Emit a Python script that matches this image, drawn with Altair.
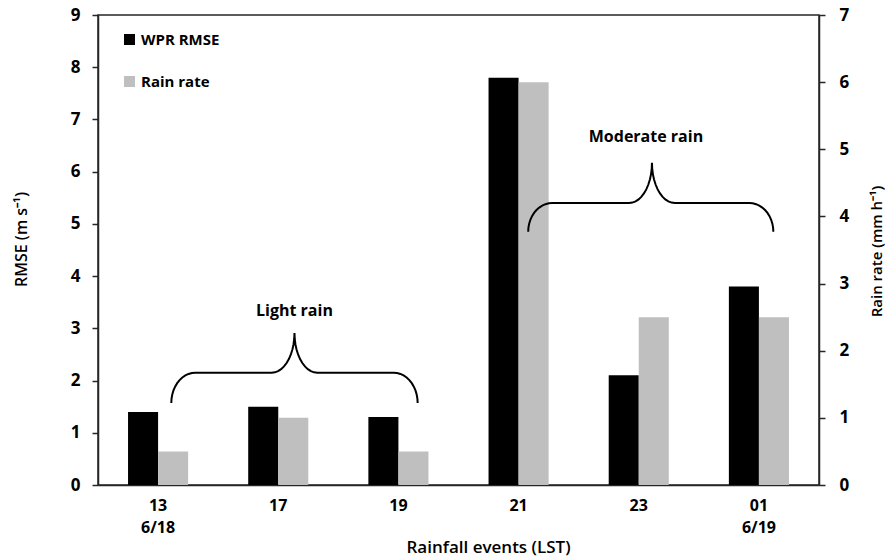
import altair as alt
import pandas as pd
import numpy as np

# ---- data ----
events = ["13|6/18", "17", "19", "21", "23", "01|6/19"]
wpr_rmse = [1.4, 1.5, 1.3, 7.8, 2.1, 3.8]          # left axis (m s-1)
rain_rate = [0.5, 1.0, 0.5, 6.0, 2.5, 2.5]         # right axis (mm h-1)
series = ["WPR RMSE", "Rain rate"]
colors = ["#000000", "#bfbfbf"]

# brace annotations (x in category units, y in RMSE units)
groups = ["Light rain", "Moderate rain"]
brace_x0 = [0.61, 3.58]
brace_x1 = [2.66, 5.62]
brace_xm = [1.635, 4.61]
brace_y_end = [1.57, 4.85]
brace_y_bar = [2.15, 5.40]
brace_y_tip = [2.91, 6.17]
label_x = [1.635, 4.56]
label_y = [3.33, 6.67]

FONT = "Open Sans"
AX = "#262626"

df1 = pd.DataFrame({"event": events, "series": series[0], "value": wpr_rmse})
df2 = pd.DataFrame({"event": events, "series": series[1], "value": rain_rate})


def brace_points(g, x0, x1, xm, ye, yb, yt, rx=0.2, rxm=0.19, n=12):
    pts = []
    for t in np.linspace(np.pi, np.pi / 2, n):
        pts.append((x0 + rx + rx * np.cos(t), ye + (yb - ye) * np.sin(t)))
    for t in np.linspace(-np.pi / 2, 0, n):
        pts.append((xm - rxm + rxm * np.cos(t), yt + (yt - yb) * np.sin(t)))
    for t in np.linspace(np.pi, 1.5 * np.pi, n):
        pts.append((xm + rxm + rxm * np.cos(t), yt + (yt - yb) * np.sin(t)))
    for t in np.linspace(np.pi / 2, 0, n):
        pts.append((x1 - rx + rx * np.cos(t), ye + (yb - ye) * np.sin(t)))
    return [{"g": g, "i": i, "bx": float(px), "by": float(py)} for i, (px, py) in enumerate(pts)]


rows = []
for k, g in enumerate(groups):
    rows += brace_points(g, brace_x0[k], brace_x1[k], brace_xm[k],
                         brace_y_end[k], brace_y_bar[k], brace_y_tip[k])
brace_df = pd.DataFrame(rows)
label_df = pd.DataFrame({"g": groups, "bx": label_x, "by": label_y})

xscale = alt.Scale(domain=events, paddingInner=0.5, paddingOuter=0.25)
offscale = alt.Scale(domain=series, paddingInner=0, paddingOuter=0)
cscale = alt.Scale(domain=series, range=colors)

legend = alt.Legend(
    title=None, orient="none", legendX=24, legendY=17, direction="vertical",
    symbolType="square", symbolSize=121, symbolStrokeWidth=0, symbolOpacity=1,
    labelFont=FONT, labelFontSize=15, labelFontWeight="bold", labelColor="#000",
    labelOffset=4, rowPadding=26,
)

bars1 = alt.Chart(df1).mark_bar().encode(
    x=alt.X("event:N", sort=events, scale=xscale,
            axis=alt.Axis(title="Rainfall events (LST)", labelAngle=0, ticks=False,
                          labelExpr="split(datum.value, '|')",
                          labelFont=FONT, labelFontSize=16, labelFontWeight="bold",
                          labelColor="#000", labelLineHeight=22, labelPadding=12,
                          domainColor=AX, domainWidth=1.5,
                          titleFont=FONT, titleFontSize=17, titleFontWeight=600,
                          titleColor="#000", titleX=390, titleY=62,
                          titleAlign="center", titleBaseline="middle")),
    xOffset=alt.XOffset("series:N", scale=offscale),
    y=alt.Y("value:Q", scale=alt.Scale(domain=[0, 9], nice=False),
            axis=alt.Axis(title="RMSE (m s⁻¹)", values=list(range(10)), grid=False,
                          tickSize=6, tickColor=AX, tickWidth=1.5,
                          domainColor=AX, domainWidth=1.5,
                          labelFont=FONT, labelFontSize=17, labelFontWeight="bold",
                          labelColor="#000", labelPadding=12,
                          titleFont=FONT, titleFontSize=16, titleFontWeight=600,
                          titleColor="#000", titleAngle=270, titleX=-77, titleY=224,
                          titleAlign="center", titleBaseline="middle")),
    color=alt.Color("series:N", scale=cscale, legend=legend),
)

bars2 = alt.Chart(df2).mark_bar().encode(
    x=alt.X("event:N", sort=events, scale=xscale, axis=None),
    xOffset=alt.XOffset("series:N", scale=offscale),
    y=alt.Y("value:Q", scale=alt.Scale(domain=[0, 7], nice=False),
            axis=alt.Axis(title="Rain rate (mm h⁻¹)", orient="right",
                          values=list(range(8)), grid=False,
                          tickSize=6, tickColor=AX, tickWidth=1.5,
                          domainColor=AX, domainWidth=1.5,
                          labelFont=FONT, labelFontSize=17, labelFontWeight="bold",
                          labelColor="#000", labelPadding=14,
                          titleFont=FONT, titleFontSize=15, titleFontWeight=600,
                          titleColor="#000", titleAngle=270, titleX=57, titleY=236,
                          titleAlign="center", titleBaseline="middle")),
    color=alt.Color("series:N", scale=cscale, legend=legend),
)

bx_scale = alt.Scale(domain=[0, 6], nice=False, zero=False)
by_scale = alt.Scale(domain=[0, 9], nice=False)

braces = alt.Chart(brace_df).mark_line(color="#000", strokeWidth=2).encode(
    x=alt.X("bx:Q", scale=bx_scale, axis=None),
    y=alt.Y("by:Q", scale=by_scale, axis=None),
    detail="g:N",
    order="i:Q",
)

labels = alt.Chart(label_df).mark_text(font=FONT, fontSize=16, fontWeight="bold",
                                        color="#000").encode(
    x=alt.X("bx:Q", scale=bx_scale, axis=None),
    y=alt.Y("by:Q", scale=by_scale, axis=None),
    text="g:N",
)

chart = alt.layer(bars1, bars2, braces, labels).resolve_scale(
    x="independent", y="independent"
).properties(
    width=721, height=470,
    autosize=alt.AutoSizeParams(type="none"),
    padding={"left": 98, "top": 15, "right": 67, "bottom": 74},
    background="white",
).configure_view(stroke=AX, strokeWidth=1.5)

chart.save("out.html", embed_options={"renderer": "svg", "actions": False})
